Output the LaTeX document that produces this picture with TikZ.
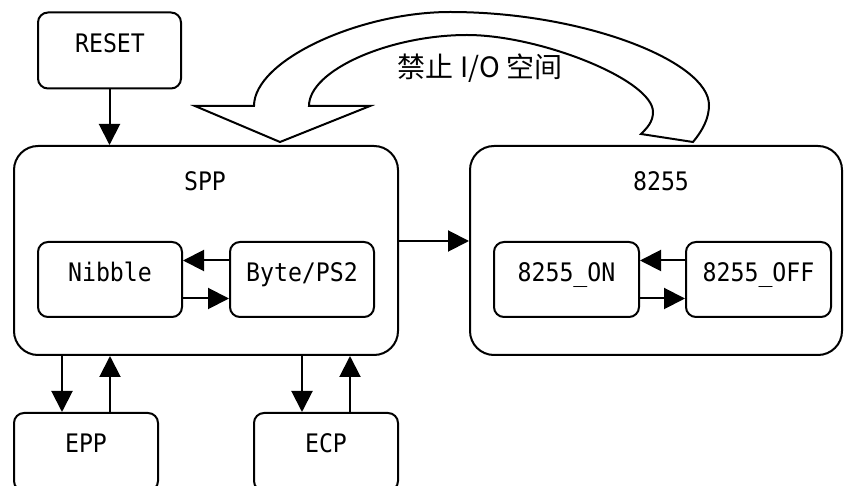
\documentclass[tikz,border=0pt]{standalone}
\usepackage{fontspec}
\usetikzlibrary{arrows.meta}
\newfontfamily\labfont[FakeStretch=0.91]{DejaVu Sans Mono}
\newfontfamily\cjkfont{Noto Sans CJK SC}
\begin{document}
\begin{tikzpicture}[x=1pt,y=-1pt,
  box/.style={draw,line width=2pt,rounded corners=10pt,inner sep=0pt,fill=white},
  bigbox/.style={draw,line width=2pt,rounded corners=24pt,inner sep=0pt},
  txt/.style={anchor=base,inner sep=0pt,font=\labfont\fontsize{25.5}{29}\selectfont},
  arr/.style={line width=2pt,-{Triangle[length=21pt,width=21pt]}}
]
\useasboundingbox (0,0) rectangle (844,486);
\clip (0,0) rectangle (844,486);
% big containers
\node[bigbox,minimum width=384pt,minimum height=209pt] (spp) at (206,250.5) {};
\node[bigbox,minimum width=372pt,minimum height=209pt] (c8255) at (656,250.5) {};
% small boxes
\node[box,minimum width=143pt,minimum height=76pt] (reset) at (109.5,50.5) {};
\node[box,minimum width=144pt,minimum height=75pt] (nib) at (110,279.5) {};
\node[box,minimum width=144pt,minimum height=75pt] (byte) at (302,279.5) {};
\node[box,minimum width=145pt,minimum height=75pt] (on) at (566.5,279.5) {};
\node[box,minimum width=145pt,minimum height=75pt] (off) at (758.5,279.5) {};
\node[box,minimum width=144pt,minimum height=78pt] (epp) at (86,452) {};
\node[box,minimum width=144pt,minimum height=78pt] (ecp) at (326,452) {};
% labels
\node[txt] (treset) at (110,53) {RESET};
\node[txt] (tspp) at (205,191) {SPP};
\node[txt] (t8255) at (661,191) {8255};
\node[txt] (tnib) at (110,282) {Nibble};
\node[txt] (tbyte) at (302,282) {Byte/PS2};
\node[txt] (ton) at (566.5,282) {8255\_ON};
\node[txt] (toff) at (758.5,282) {8255\_OFF};
\node[txt] (tepp) at (86,453) {EPP};
\node[txt] (tecp) at (326,453) {ECP};
\node[anchor=base,inner sep=0pt,font=\cjkfont\fontsize{28}{32}\selectfont] (tlabel) at (480,77.5) {禁止 I/O 空间};
% connectors
\draw[arr] (reset.south) -- (reset.south |- spp.north);
\draw[arr] ([yshift=9.5pt]spp.east) -- ([yshift=9.5pt]spp.east -| c8255.west);
\draw[arr] ([yshift=19pt]byte.west) -- ([yshift=19pt]nib.east);
\draw[arr] ([yshift=-19pt]nib.east) -- ([yshift=-19pt]byte.west);
\draw[arr] ([yshift=19pt]off.west) -- ([yshift=19pt]on.east);
\draw[arr] ([yshift=-19pt]on.east) -- ([yshift=-19pt]off.west);
\draw[arr] ([xshift=-24pt]epp.north |- spp.south) -- ([xshift=-24pt]epp.north);
\draw[arr] ([xshift=24pt]epp.north) -- ([xshift=24pt]epp.north |- spp.south);
\draw[arr] ([xshift=-24pt]ecp.north |- spp.south) -- ([xshift=-24pt]ecp.north);
\draw[arr] ([xshift=24pt]ecp.north) -- ([xshift=24pt]ecp.north |- spp.south);
% big curved block arrow
\draw[line width=2pt,line join=miter,fill=white]
  (254,106) -- (195,106) -- (280,142) -- (370,106) -- (309,106)
  .. controls (309,70) and (390,35) .. (467,35)
  .. controls (540,35) and (653,80) .. (653,112)
  .. controls (653,122) and (647,128) .. (641,134)
  -- (693,142)
  .. controls (703,130) and (709,118) .. (709,105)
  .. controls (709,62) and (585,12) .. (450,12)
  .. controls (360,12) and (254,60) .. (254,106) -- cycle;
\end{tikzpicture}
\end{document}
